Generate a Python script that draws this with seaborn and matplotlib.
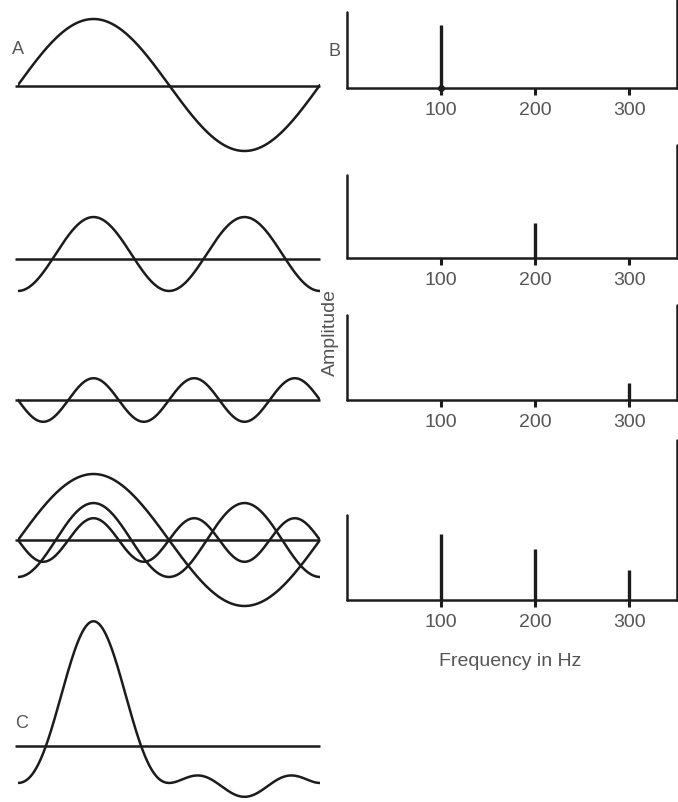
import numpy as np
import pandas as pd
import matplotlib
matplotlib.use("Agg")
import matplotlib.pyplot as plt
import seaborn as sns

# ---- data ----
freqs_hz = [100, 200, 300]                 # harmonic frequencies
wave_amps = [1.0, 0.56, 0.33]              # waveform amplitudes (relative)
wave_phase = ["sin", "-cos", "-sin"]       # starting shape of each component
spec_panels = [                            # spectral line heights per panel
    {"freq": [100], "amp": [0.95]},
    {"freq": [200], "amp": [0.53]},
    {"freq": [300], "amp": [0.26]},
    {"freq": [100, 200, 300], "amp": [1.0, 0.77, 0.45]},
]
tick_labels = ["100", "200", "300"]
duration_ms = 10.0

sns.set_style("white")
plt.rcParams["font.family"] = ["Liberation Sans", "DejaVu Sans"]

W, H = 678, 802
fig = plt.figure(figsize=(W / 100, H / 100), dpi=100)
fig.patch.set_facecolor("white")

INK = "#1c1c1c"
TXT = "#555555"
LW = 1.8
SCALE = 66.0  # px per unit amplitude


def px_axes(left, top, width, height):
    ax = fig.add_axes([left / W, 1 - (top + height) / H, width / W, height / H])
    ax.set_facecolor("none")
    ax.set_axis_off()
    return ax


def component(i, t_ms):
    ph = 2 * np.pi * freqs_hz[i] * t_ms / 1000.0
    if wave_phase[i] == "sin":
        s = np.sin(ph)
    elif wave_phase[i] == "-cos":
        s = -np.cos(ph)
    else:
        s = -np.sin(ph)
    return wave_amps[i] * s


t = np.linspace(0, duration_ms, 600)

# left column: (wave centre px, baseline px, components, summed?)
left_panels = [
    (85, 86, [0], False),
    (254, 259, [1], False),
    (400, 400, [2], False),
    (540, 540, [0, 1, 2], False),
    (746, 746, [0, 1, 2], True),
]
half = 130
for centre, base, comps, summed in left_panels:
    ax = px_axes(18, centre - half, 302, 2 * half)
    ax.set_xlim(0, duration_ms)
    ax.set_ylim(-half / SCALE, half / SCALE)
    bval = -(base - centre) / SCALE
    ax.plot([-0.1, duration_ms], [bval, bval], color=INK, lw=LW,
            solid_capstyle="butt", clip_on=False)
    if summed:
        y = sum(component(i, t) for i in comps)
        df = pd.DataFrame({"t": t, "y": y})
        sns.lineplot(data=df, x="t", y="y", ax=ax, color=INK, lw=LW)
    else:
        for i in comps:
            df = pd.DataFrame({"t": t, "y": component(i, t)})
            sns.lineplot(data=df, x="t", y="y", ax=ax, color=INK, lw=LW)
    ax.set_axis_off()

# right column spectra: (axis px, left spine top px, right spine top px)
right_geom = [(88, 12, 0), (258, 175, 145), (400, 315, 305), (600, 515, 440)]
FMAX = 352
for (axis_px, ltop, rtop), sp in zip(right_geom, spec_panels):
    height = 170
    ax = fig.add_axes([347 / W, 1 - axis_px / H, 331 / W, height / H])
    ax.set_facecolor("none")
    ax.set_xlim(0, FMAX)
    ax.set_ylim(0, height / SCALE)
    for s in ax.spines.values():
        s.set_visible(False)
    ax.set_yticks([])
    ax.plot([0, FMAX], [0, 0], color=INK, lw=LW, clip_on=False)
    ax.plot([0, 0], [0, (axis_px - ltop) / SCALE], color=INK, lw=LW,
            clip_on=False)
    ax.plot([FMAX - 0.8, FMAX - 0.8], [0, (axis_px - rtop) / SCALE],
            color=INK, lw=LW, clip_on=False)
    ax.vlines(sp["freq"], 0, sp["amp"], color=INK, lw=2.4)
    ax.set_xticks(freqs_hz)
    ax.set_xticklabels(tick_labels, color=TXT, fontsize=14)
    ax.tick_params(axis="x", direction="out", length=5, width=2.2,
                   color=INK, pad=5, bottom=True)
    ax.set_xlabel("")
    ax.set_ylabel("")

# marker at base of the first 100 Hz line
fig.axes[-4].plot([100], [0], "o", color=INK, ms=4, clip_on=False)

# texts
fig.text(18 / W, 1 - 50 / H, "A", color=TXT, fontsize=13, ha="center", va="center")
fig.text(334 / W, 1 - 52 / H, "B", color=TXT, fontsize=13, ha="center", va="center")
fig.text(22 / W, 1 - 724 / H, "C", color=TXT, fontsize=13, ha="center", va="center")
fig.text(330 / W, 1 - 333 / H, "Amplitude", color=TXT, fontsize=14,
         rotation=90, ha="center", va="center")
fig.text(510 / W, 1 - 662 / H, "Frequency in Hz", color=TXT, fontsize=14,
         ha="center", va="center")

fig.savefig("out.png", dpi=100, facecolor="white")
